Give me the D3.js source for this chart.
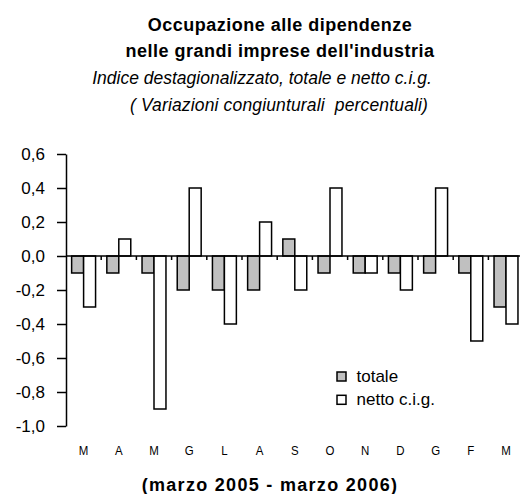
<!DOCTYPE html>
<html><head><meta charset="utf-8">
<script src="https://cdn.jsdelivr.net/npm/d3@7"></script>
<style>
html,body{margin:0;padding:0;background:#fff;}
svg{display:block;font-family:"Liberation Sans",Arial,sans-serif;}
text{white-space:pre;}
</style></head>
<body><svg id="c" width="520" height="494"></svg>
<script>
const months = ["M","A","M","G","L","A","S","O","N","D","G","F","M"];
const totale = [-0.1,-0.1,-0.1,-0.2,-0.2,-0.2,0.1,-0.1,-0.1,-0.1,-0.1,-0.1,-0.3];
const netto  = [-0.3,0.1,-0.9,0.4,-0.4,0.2,-0.2,0.4,-0.1,-0.2,0.4,-0.5,-0.4];
const yTicks = [0.6,0.4,0.2,0.0,-0.2,-0.4,-0.6,-0.8,-1.0];
const titleLines = ["Occupazione alle dipendenze","nelle grandi imprese dell'industria"];
const subtitleLines = ["Indice destagionalizzato, totale e netto c.i.g.","( Variazioni congiunturali  percentuali)"];
const xLabel = "(marzo 2005 - marzo 2006)";
const seriesNames = ["totale","netto c.i.g."];
const seriesColors = ["#c0c0c0","#ffffff"];

const svg = d3.select("#c");
const x = d3.scaleBand().domain(d3.range(months.length)).range([66, 66 + 13*35.2]).padding(0);
const y = d3.scaleLinear().domain([-1,0.6]).range([426,154]);
const bw = x.bandwidth()*0.34;

// titles
svg.selectAll("text.t").data(titleLines).join("text")
  .attr("x",280).attr("y",(d,i)=>30.5+i*26.5).attr("text-anchor","middle")
  .attr("font-size",18).attr("font-weight","bold").attr("letter-spacing",0.5).text(d=>d);
svg.selectAll("text.s").data(subtitleLines).join("text")
  .attr("x",(d,i)=>i===0?262:279).attr("y",(d,i)=>84+i*27).attr("text-anchor","middle")
  .attr("font-size",17.5).attr("font-style","italic")
  .attr("letter-spacing",(d,i)=>i===0?0:0.15).text(d=>d);

// bars
const series = [totale, netto];
series.forEach((vals,si)=>{
  svg.append("g").selectAll("rect").data(vals).join("rect")
    .attr("x",(d,i)=>x(i)+x.bandwidth()/2 - bw + si*bw)
    .attr("y",d=>y(Math.max(0,d)))
    .attr("width",bw)
    .attr("height",d=>Math.abs(y(d)-y(0)))
    .attr("fill",seriesColors[si]).attr("stroke","#000").attr("stroke-width",1.5);
});

// y axis
const fmt = d=>d3.format(".1f")(d).replace("−","-").replace(".",",");
const ya = svg.append("g").attr("transform","translate(66,0)")
  .call(d3.axisLeft(y).tickValues(yTicks).tickFormat(fmt).tickSize(9).tickSizeOuter(0).tickPadding(12));
ya.selectAll("path,line").attr("stroke","#000").attr("stroke-width",1.5);
ya.selectAll("text").attr("font-size",17).attr("font-family","Liberation Sans,Arial,sans-serif").attr("fill","#000");

// zero line and boundary ticks
svg.append("line").attr("x1",66).attr("x2",520).attr("y1",y(0)).attr("y2",y(0)).attr("stroke","#000").attr("stroke-width",1.5);
svg.append("g").selectAll("line").data(d3.range(1,months.length)).join("line")
  .attr("x1",d=>x(d)).attr("x2",d=>x(d)).attr("y1",y(0)).attr("y2",y(0)+4)
  .attr("stroke","#000").attr("stroke-width",1.5);

// month labels
svg.append("g").selectAll("text").data(months).join("text")
  .attr("transform",(d,i)=>`translate(${x(i)+x.bandwidth()/2},455) scale(0.85,1)`)
  .attr("text-anchor","middle").attr("font-size",13.5).text(d=>d);

// x label
svg.append("text").attr("x",270).attr("y",491).attr("text-anchor","middle")
  .attr("font-size",18).attr("font-weight","bold").attr("letter-spacing",1.3).text(xLabel);

// legend
const lg = svg.append("g");
seriesNames.forEach((n,i)=>{
  lg.append("rect").attr("x",337).attr("y",372+i*23.3).attr("width",9).attr("height",9)
    .attr("fill",seriesColors[i]).attr("stroke","#000").attr("stroke-width",1.5);
  lg.append("text").attr("x",356.5).attr("y",381.5+i*23.3).attr("font-size",17).text(n);
});
</script></body></html>
